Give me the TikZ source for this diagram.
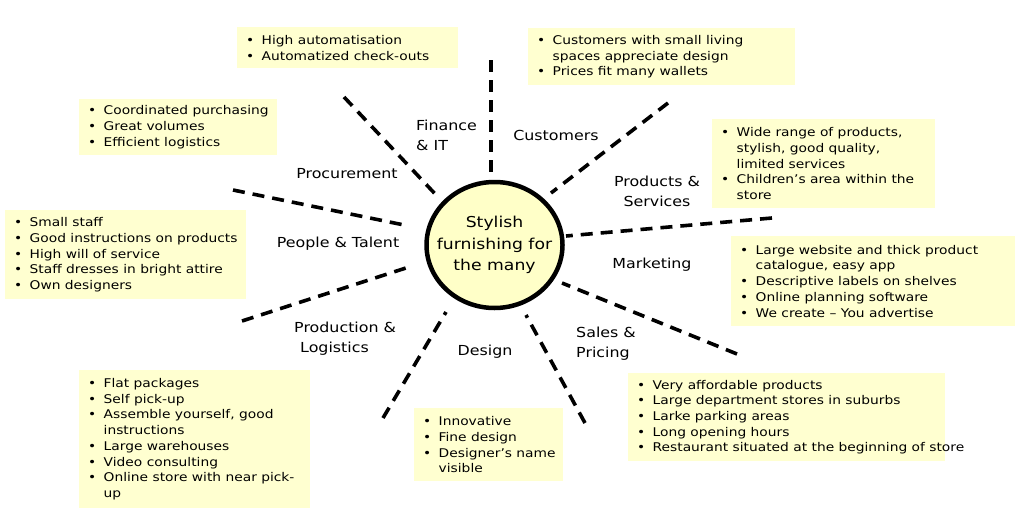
\documentclass[tikz,border=0pt]{standalone}
\usepackage{fontspec}
\setmainfont{DejaVu Sans}[FakeStretch=1.15]
\usetikzlibrary{shapes.geometric}
\definecolor{boxfill}{RGB}{255,255,208}
\definecolor{hubfill}{RGB}{255,255,200}
\newcommand\bl{\makebox[15.5pt][l]{\textbullet}}
\newcommand\cn{\hspace*{15.5pt}}
\begin{document}
\begin{tikzpicture}[x=1pt,y=-1pt,
  box/.style={fill=boxfill, draw=none, anchor=north west, inner sep=0pt},
  txt/.style={anchor=west, align=left, inner sep=0pt, font=\fontsize{12}{15.7}\selectfont},
  lab/.style={align=center, inner sep=0pt, font=\fontsize{13.8}{20}\selectfont},
  spoke/.style={line width=3.6pt, dash pattern=on 12pt off 8pt}]
\useasboundingbox[fill=white] (0,0) rectangle (1024,514);

% boxes
\node[box, minimum width=221pt, minimum height=41pt] (b1) at (237,27) {};
\node[txt, xshift=9pt] (t1) at (b1.west) {\bl High automatisation\\\bl Automatized check-outs};

\node[box, minimum width=267pt, minimum height=57pt] (b2) at (528,28) {};
\node[txt, xshift=9pt] (t2) at (b2.west) {\bl Customers with small living\\\cn spaces appreciate design\\\bl Prices fit many wallets};

\node[box, minimum width=198pt, minimum height=56pt] (b3) at (79,99) {};
\node[txt, xshift=9pt] (t3) at (b3.west) {\bl Coordinated purchasing\\\bl Great volumes\\\bl Efficient logistics};

\node[box, minimum width=223pt, minimum height=89pt] (b4) at (712,119) {};
\node[txt, xshift=9pt] (t4) at (b4.west) {\bl Wide range of products,\\\cn stylish, good quality,\\\cn limited services\\\bl Children's area within the\\\cn store};

\node[box, minimum width=241pt, minimum height=89pt] (b5) at (5,210) {};
\node[txt, xshift=9pt] (t5) at (b5.west) {\bl Small staff\\\bl Good instructions on products\\\bl High will of service\\\bl Staff dresses in bright attire\\\bl Own designers};

\node[box, minimum width=284pt, minimum height=90pt] (b6) at (731,236) {};
\node[txt, xshift=9pt] (t6) at (b6.west) {\bl Large website and thick product\\\cn catalogue, easy app\\\bl Descriptive labels on shelves\\\bl Online planning software\\\bl We create -- You advertise};

\node[box, minimum width=231pt, minimum height=138pt] (b7) at (79,370) {};
\node[txt, xshift=9pt] (t7) at (b7.west) {\bl Flat packages\\\bl Self pick-up\\\bl Assemble yourself, good\\\cn instructions\\\bl Large warehouses\\\bl Video consulting\\\bl Online store with near pick-\\\cn up};

\node[box, minimum width=149pt, minimum height=73pt] (b8) at (414,408) {};
\node[txt, xshift=9pt] (t8) at (b8.west) {\bl Innovative\\\bl Fine design\\\bl Designer's name\\\cn visible};

\node[box, minimum width=317pt, minimum height=88pt] (b9) at (628,373) {};
\node[txt, xshift=9pt] (t9) at (b9.west) {\bl Very affordable products\\\bl Large department stores in suburbs\\\bl Larke parking areas\\\bl Long opening hours\\\bl Restaurant situated at the beginning of store};

% spoke end points
\coordinate (f1) at (344,97);  \coordinate (f2) at (438,197);
\coordinate (c1) at (491,60);  \coordinate (c2) at (491,172);
\coordinate (p1) at (668,103); \coordinate (p2) at (551,193);
\coordinate (r1) at (233,190); \coordinate (r2) at (409,226);
\coordinate (m1) at (772,218); \coordinate (m2) at (566,236);
\coordinate (e1) at (242,321); \coordinate (e2) at (409,267);
\coordinate (d1) at (383,418); \coordinate (d2) at (446,312);
\coordinate (s1) at (585,423); \coordinate (s2) at (526,315);
\coordinate (k1) at (737,354); \coordinate (k2) at (562,283);

\foreach \a/\b in {f1/f2, c1/c2, p1/p2, r1/r2, m1/m2, e1/e2, d1/d2, s1/s2, k1/k2}
  \draw[spoke] (\a) -- (\b);

% hub
\node[ellipse, draw, line width=4.5pt, fill=hubfill, inner sep=0pt,
      minimum width=136pt, minimum height=126pt] (hub) at (494.5,245) {};
\node[align=center, inner sep=0pt, font=\fontsize{15}{21.5}\selectfont] (hubt) at (hub.center)
  {Stylish\\furnishing for\\the many};

% labels
\node[lab, anchor=west, align=left] (lfin) at (416,135) {Finance\\\& IT};
\node[lab] (lcus) at (556,135) {Customers};
\node[lab] (lproc) at (347,174) {Procurement};
\node[lab] (lprod) at (657,191) {Products \&\\Services};
\node[lab] (lppl) at (338,244) {People \& Talent};
\node[lab] (lmkt) at (652,265) {Marketing};
\node[lab, anchor=west, align=left] (lpl) at (294,339) {Production \&\\\hspace*{6pt}Logistics};
\node[lab] (ldes) at (485,352) {Design};
\node[lab, anchor=west, align=left] (lsal) at (576,344) {Sales \&\\Pricing};
\end{tikzpicture}
\end{document}
